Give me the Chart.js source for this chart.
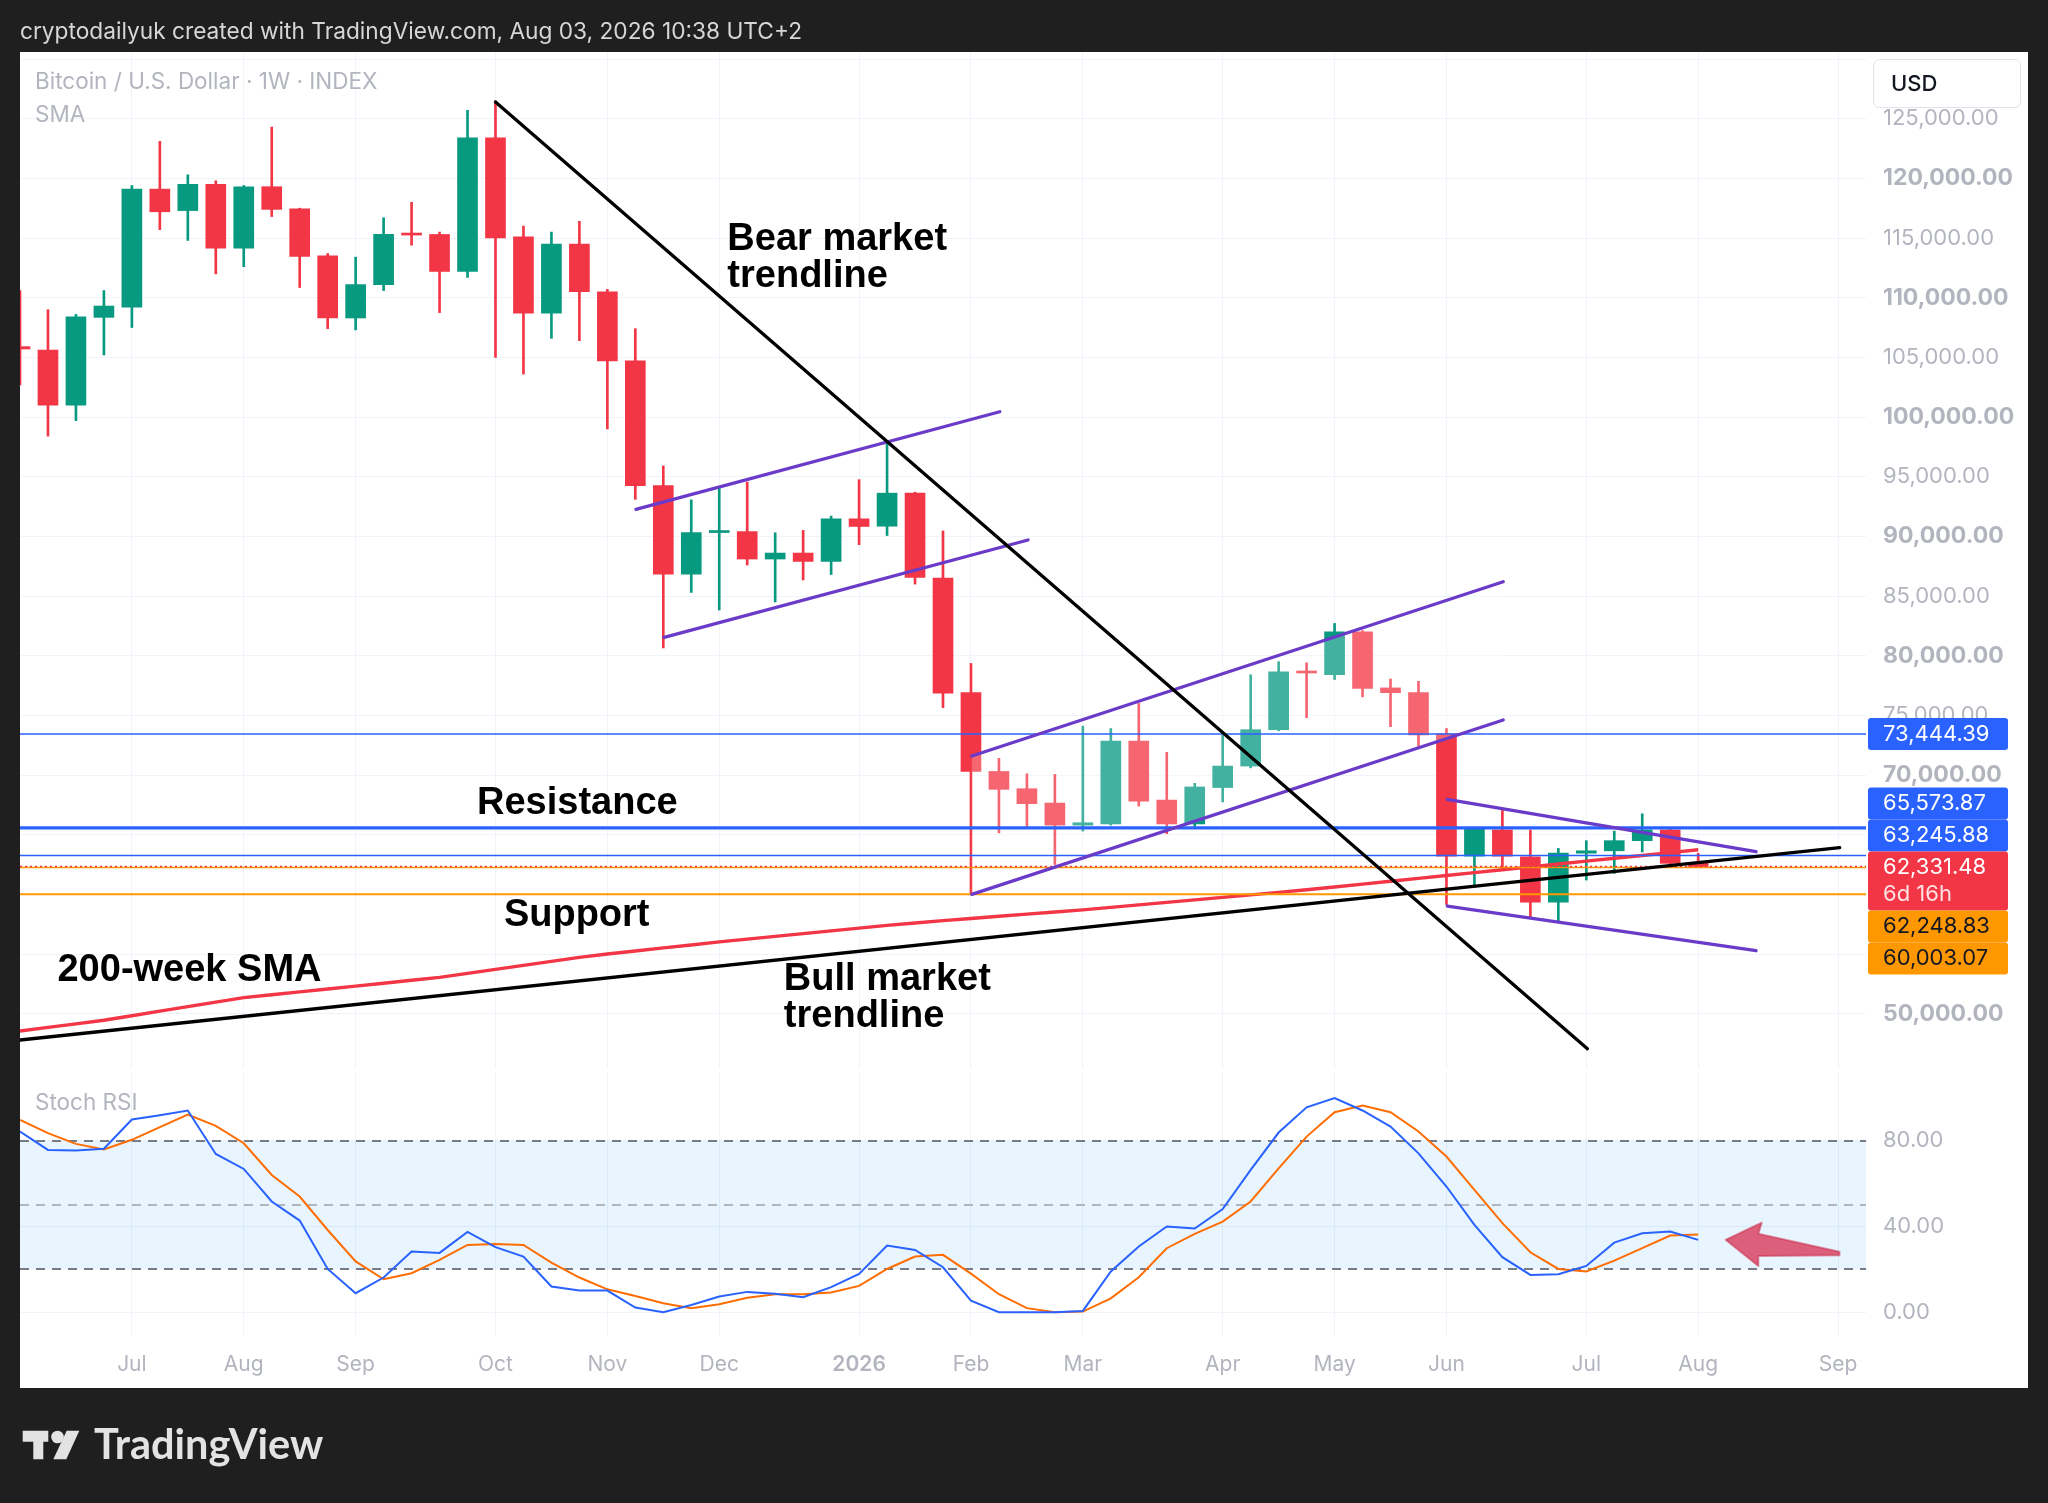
<!DOCTYPE html>
<html>
<head>
<meta charset="utf-8">
<title>Bitcoin / U.S. Dollar 1W</title>
<script src="https://cdn.jsdelivr.net/npm/chart.js@4.4.1/dist/chart.umd.min.js"></script>
<style>
  html, body { margin: 0; padding: 0; }
  body { width: 2048px; height: 1503px; background: #1f1f1f; position: relative; overflow: hidden; }
  #panel { position: absolute; left: 20px; top: 52px; width: 2008px; height: 1336px; background: #fff; }
  #chart { display: block; }
  #overlay { position: absolute; left: 0; top: 0; pointer-events: none; }
</style>
</head>
<body>
<div id="panel"><canvas id="chart" width="2008" height="1336"></canvas></div>
<svg id="overlay" width="2048" height="1503" xmlns="http://www.w3.org/2000/svg">
  <text x="20" y="39" font-family="Inter" font-size="22.7" fill="#d6d6d6">cryptodailyuk created with TradingView.com, Aug 03, 2026 10:38 UTC+2</text>
  <text x="35" y="89" font-family="Inter" font-size="22.5" fill="#b2b5be">Bitcoin / U.S. Dollar · 1W · INDEX</text>
  <text x="35" y="121.5" font-family="Inter" font-size="22.5" fill="#b2b5be">SMA</text>
  <text x="35" y="1110" font-family="Inter" font-size="22.5" fill="#b2b5be">Stoch RSI</text>
  <rect x="1873.5" y="59.5" width="147" height="48" rx="6" fill="#fff" stroke="#e0e3eb"/>
  <text x="1891" y="90.5" font-family="Inter" font-size="22" font-weight="500" fill="#131722">USD</text>
  <polygon points="22.7,1430.7 48.3,1430.7 48.3,1441.7 43.3,1441.7 43.3,1459.3 33.3,1459.3 33.3,1441.7 22.7,1441.7" fill="#e3e3e3"/>
  <circle cx="57.5" cy="1437" r="6.3" fill="#e3e3e3"/>
  <polygon points="66.7,1430.7 79.3,1430.7 66.3,1459.3 53.3,1459.3" fill="#e3e3e3"/>
  <text x="94" y="1459" font-family="Lato" font-weight="700" font-size="41.5" fill="#e3e3e3">TradingView</text>
</svg>
<script>
// weekly bars (Monday of each week), the last six are empty space on the right
const weeks = [
  '2025-06-09','2025-06-16','2025-06-23','2025-06-30','2025-07-07','2025-07-14','2025-07-21','2025-07-28',
  '2025-08-04','2025-08-11','2025-08-18','2025-08-25','2025-09-01','2025-09-08','2025-09-15','2025-09-22',
  '2025-09-29','2025-10-06','2025-10-13','2025-10-20','2025-10-27','2025-11-03','2025-11-10','2025-11-17',
  '2025-11-24','2025-12-01','2025-12-08','2025-12-15','2025-12-22','2025-12-29','2026-01-05','2026-01-12',
  '2026-01-19','2026-01-26','2026-02-02','2026-02-09','2026-02-16','2026-02-23','2026-03-02','2026-03-09',
  '2026-03-16','2026-03-23','2026-03-30','2026-04-06','2026-04-13','2026-04-20','2026-04-27','2026-05-04',
  '2026-05-11','2026-05-18','2026-05-25','2026-06-01','2026-06-08','2026-06-15','2026-06-22','2026-06-29',
  '2026-07-06','2026-07-13','2026-07-20','2026-07-27','2026-08-03','2026-08-10','2026-08-17','2026-08-24',
  '2026-08-31','2026-09-07','2026-09-14'
];
const monthNames = ['Jan','Feb','Mar','Apr','May','Jun','Jul','Aug','Sep','Oct','Nov','Dec'];

const openP = [
  105900, 105600, 101000, 108350, 109200, 119100, 117300, 119500, 114150, 119300,
  117450, 113500, 108300, 111100, 115350, 115300, 112200, 123400, 115100, 108700,
  114500, 110500, 104700, 94250, 86830, 90320, 90400, 88100, 88600, 87900,
  91470, 90850, 93620, 86500, 76900, 70300, 68850, 67650, 65800, 65900,
  72850, 67900, 65900, 68950, 70750, 73800, 78700, 78400, 82000, 77300,
  76900, 73450, 63200, 65400, 63150, 59350, 63450, 63650, 64500, 65400,
  62600
];
const highP = [
  110600, 109000, 108600, 110600, 119400, 123100, 120300, 119800, 119400, 124300,
  117500, 113700, 113400, 116700, 118000, 115500, 125700, 126500, 116000, 115500,
  116400, 110700, 107400, 95900, 93060, 94180, 94550, 90300, 90500, 91700,
  94750, 97950, 93700, 90450, 79350, 71400, 70100, 70050, 74100, 73900,
  76000, 71900, 69300, 73350, 78400, 79500, 79400, 82700, 82100, 78050,
  77850, 73900, 65500, 67050, 65400, 63850, 64500, 65300, 66750, 65500,
  63450
];
const lowP = [
  102700, 98400, 99700, 105200, 107500, 115700, 114800, 112000, 112600, 116800,
  110850, 107400, 107300, 110600, 114400, 108750, 111700, 105000, 103600, 106600,
  106400, 99000, 93100, 80650, 85300, 83830, 87600, 84500, 86350, 86800,
  89300, 90070, 86000, 75650, 60050, 65150, 65600, 62500, 65300, 65800,
  67400, 65100, 65700, 67750, 70600, 73700, 74800, 78000, 76550, 74050,
  72400, 59150, 60750, 62300, 58100, 57750, 61200, 61750, 63550, 62300,
  62250
];
const closeP = [
  105700, 101000, 108400, 109300, 119100, 117200, 119500, 114150, 119300, 117400,
  113450, 108300, 111100, 115300, 115250, 112200, 123400, 115000, 108700, 114500,
  110500, 104700, 94250, 86830, 90320, 90460, 88100, 88600, 87900, 91470,
  90830, 93620, 86550, 76850, 70300, 68800, 67600, 65800, 66000, 72850,
  67800, 65900, 69000, 70750, 73800, 78650, 78550, 82000, 77250, 76900,
  73350, 63200, 65450, 63200, 59350, 63450, 63650, 64500, 65400, 62600,
  62331.48
];
const sma200 = [
  48550, 48850, 49150, 49450, 49830, 50210, 50590, 50970, 51350, 51590,
  51830, 52070, 52310, 52550, 52800, 53040, 53380, 53710, 54050, 54380,
  54720, 55000, 55250, 55510, 55760, 56020, 56250, 56480, 56710, 56940,
  57170, 57400, 57600, 57800, 57980, 58160, 58340, 58520, 58700, 58910,
  59120, 59330, 59540, 59750, 59960, 60170, 60380, 60620, 60860, 61100,
  61340, 61580, 61820, 62060, 62300, 62540, 62780, 63020, 63260, 63500,
  63740
];
const stochK = [
  84.4, 75.8, 75.5, 76.3, 90.0, 92.0, 94.2, 73.9, 66.9, 51.7,
  42.8, 20.2, 8.9, 16.2, 28.3, 27.7, 37.5, 30.4, 26.0, 12.0,
  10.1, 10.1, 2.2, 0, 3.4, 7.3, 9.5, 8.6, 7.0, 11.7,
  17.9, 31.1, 29.1, 21.0, 5.4, 0, 0, 0, 0.6, 19.0,
  30.7, 40.0, 39.1, 48.2, 66.5, 83.9, 95.7, 100, 94.2, 86.7,
  74.2, 58.7, 40.8, 25.7, 17.4, 17.7, 21.6, 32.5, 36.9, 37.7,
  33.8
];
const stochD = [
  89.8, 83.6, 78.6, 76.0, 80.5, 86.4, 92.3, 87.0, 78.9, 64.1,
  54.0, 38.4, 23.7, 15.4, 18.2, 24.4, 31.4, 31.9, 31.4, 23.2,
  16.2, 10.7, 7.6, 4.2, 1.9, 3.7, 6.8, 8.4, 8.4, 9.2,
  12.3, 20.2, 26.0, 26.8, 18.0, 8.4, 1.9, 0, 0.3, 6.5,
  16.3, 29.9, 36.6, 42.3, 51.7, 67.2, 82.0, 93.4, 96.5, 93.4,
  84.4, 72.7, 57.1, 41.6, 28.0, 20.2, 19.0, 24.1, 29.9, 35.8,
  36.3
];

const levelValues = [73444.39, 65573.87, 63245.88, 62248.83, 60003.07];
const currentPrice = closeP[closeP.length - 1];
const tagValues = [73444.39, 65573.87, 63245.88, currentPrice, 62248.83, 60003.07];
const priceTicks = [50000, 55000, 60000, 65000, 70000, 75000, 80000, 85000, 90000, 95000,
  100000, 105000, 110000, 115000, 120000, 125000, 130000];
const rsiTicks = [0, 40, 80];
const rsiBand = [20, 80];
const rsiDashed = [80, 50, 20];

// drawn lines, as [week index, price]
const bearLine = [[17, 126400], [56.04, 47064]];
const bullLine = [[0, 47793], [65.06, 63908]];
const chan1Upper = [[22.02, 92266], [35.03, 100445]];
const chan1Lower = [[23.03, 81540], [36.04, 89693]];
const chan2Upper = [[34.03, 71592], [53.03, 86199]];
const chan2Lower = [[34.03, 60002], [53.03, 74609]];
const triUpper = [[51.03, 67964], [62.07, 63573]];
const triLower = [[51.03, 59022], [62.07, 55276]];
// arrow in the Stoch RSI pane, as [week index, value]
const arrowPts = [[60.98, 33.8], [62.27, 41.8], [62.15, 36.6], [65.05, 28.2], [65.05, 26.6], [62.15, 26.3], [62.15, 21.6]];

const notes = [
  { lines: ['Bear market', 'trendline'], at: [25.29, 114900] },
  { lines: ['Resistance'], at: [16.34, 67600] },
  { lines: ['Support'], at: [17.30, 58200] },
  { lines: ['200-week SMA'], at: [1.34, 53650] },
  { lines: ['Bull market', 'trendline'], at: [27.31, 52900] }
];

const UP = '#089981', DOWN = '#f23645', PURPLE = '#6a3bc9';
const Y_MIN = 45280, Y_MAX = 130590;
const candleColor = closeP.map((c, i) => c >= openP[i] ? UP : DOWN);
const monthLabel = weeks.map((w, i) => {
  if (i === 0 || w.slice(5, 7) === weeks[i - 1].slice(5, 7)) return '';
  return w.slice(5, 7) === '01' ? w.slice(0, 4) : monthNames[+w.slice(5, 7) - 1];
});
const priceLabel = v => v.toLocaleString('en-US', { minimumFractionDigits: 2, maximumFractionDigits: 2 });

const levelStyle = [
  { color: '#2962ff', width: 1.5 },
  { color: '#2962ff', width: 3.2 },
  { color: '#2962ff', width: 1.5 },
  { color: '#ff9800', width: 1.5 },
  { color: '#ff9800', width: 2 }
];
const tagStyle = [
  { bg: '#2962ff', fg: '#ffffff' },
  { bg: '#2962ff', fg: '#ffffff' },
  { bg: '#2962ff', fg: '#ffffff' },
  { bg: '#f23645', fg: '#ffffff', sub: '6d 16h' },
  { bg: '#ff9800', fg: '#131722' },
  { bg: '#ff9800', fg: '#131722' }
];

const drawings = {
  id: 'drawings',
  beforeDatasetsDraw(chart) {
    const { ctx, chartArea: a, scales: { y, y2 } } = chart;
    ctx.save();
    // gap between the two panes
    ctx.fillStyle = '#ffffff';
    ctx.fillRect(a.left, y.bottom - 1, a.right - a.left, 3);
    const t = y2.getPixelForValue(rsiBand[1]), b = y2.getPixelForValue(rsiBand[0]);
    ctx.fillStyle = 'rgba(33,150,243,0.1)';
    ctx.fillRect(a.left, t, a.right - a.left, b - t);
    ctx.lineWidth = 2;
    ctx.setLineDash([9, 7]);
    rsiDashed.forEach((v, k) => {
      ctx.strokeStyle = k === 1 ? '#b2b5be' : '#787b86';
      const py = Math.round(y2.getPixelForValue(v));
      ctx.beginPath(); ctx.moveTo(a.left, py); ctx.lineTo(a.right, py); ctx.stroke();
    });
    ctx.restore();
  },
  afterDatasetsDraw(chart) {
    const { ctx, scales: { x, y, y2 } } = chart;
    const P = p => [x.getPixelForValue(p[0]), y.getPixelForValue(p[1])];
    const seg = (line, color, w) => {
      const p0 = P(line[0]), p1 = P(line[1]);
      ctx.strokeStyle = color; ctx.lineWidth = w; ctx.lineCap = 'round';
      ctx.beginPath(); ctx.moveTo(p0[0], p0[1]); ctx.lineTo(p1[0], p1[1]); ctx.stroke();
    };
    ctx.save();
    ctx.beginPath(); ctx.rect(x.left, y.top, x.right - x.left, y.bottom - y.top); ctx.clip();

    // light veil inside the second channel
    const c = [P(chan2Upper[0]), P(chan2Upper[1]), P(chan2Lower[1]), P(chan2Lower[0])];
    ctx.fillStyle = 'rgba(255,255,255,0.24)';
    ctx.beginPath(); c.forEach((p, j) => j ? ctx.lineTo(p[0], p[1]) : ctx.moveTo(p[0], p[1])); ctx.closePath(); ctx.fill();

    levelValues.forEach((v, k) => {
      const py = y.getPixelForValue(v);
      ctx.strokeStyle = levelStyle[k].color; ctx.lineWidth = levelStyle[k].width;
      ctx.beginPath(); ctx.moveTo(x.left, py); ctx.lineTo(x.right, py); ctx.stroke();
    });
    // current price line
    ctx.setLineDash([2, 3]);
    ctx.strokeStyle = DOWN; ctx.lineWidth = 1.5;
    const cp = y.getPixelForValue(currentPrice);
    ctx.beginPath(); ctx.moveTo(x.left, cp); ctx.lineTo(x.right, cp); ctx.stroke();
    ctx.setLineDash([]);

    [chan1Upper, chan1Lower, chan2Upper, chan2Lower, triUpper, triLower].forEach(l => seg(l, PURPLE, 3.3));
    seg(bearLine, '#000000', 3.3);
    seg(bullLine, '#000000', 3.3);

    ctx.fillStyle = '#000000';
    ctx.font = 'bold 38px "Liberation Sans", Arial, sans-serif';
    ctx.textBaseline = 'middle';
    notes.forEach(n => {
      const p = P(n.at);
      n.lines.forEach((s, j) => ctx.fillText(s, p[0], p[1] + j * 37));
    });
    ctx.restore();

    // arrow in the oscillator pane
    ctx.save();
    ctx.beginPath();
    arrowPts.forEach((p, j) => {
      const px = x.getPixelForValue(p[0]), py = y2.getPixelForValue(p[1]);
      j ? ctx.lineTo(px, py) : ctx.moveTo(px, py);
    });
    ctx.closePath();
    ctx.fillStyle = 'rgba(217,54,86,0.78)';
    ctx.fill();
    ctx.strokeStyle = 'rgba(200,40,70,0.5)'; ctx.lineWidth = 2; ctx.lineJoin = 'round';
    ctx.stroke();
    ctx.restore();
  },
  afterDraw(chart) {
    const { ctx, chartArea: a, scales: { y } } = chart;
    const left = a.right + 2, w = 140;
    // tags keep price order; overlapping ones are stacked, nudged a bit below their mean position
    let boxes = tagValues.map((v, k) => {
      const h = tagStyle[k].sub ? 59 : 32;
      const anchor = y.getPixelForValue(v);
      return { k, h, anchor, ideal: anchor + (tagStyle[k].sub ? 13.5 : 0) };
    }).sort((p, q) => p.anchor - q.anchor);
    let groups = boxes.map(b => ({ items: [b] }));
    const place = g => {
      g.h = g.items.reduce((s, b) => s + b.h, 0);
      const mean = g.items.reduce((s, b) => s + b.ideal, 0) / g.items.length;
      g.top = mean - g.h / 2 + (g.items.length > 1 ? 16 : 0);
    };
    groups.forEach(place);
    let merged = true;
    while (merged) {
      merged = false;
      for (let i = 0; i < groups.length - 1; i++) {
        if (groups[i].top + groups[i].h > groups[i + 1].top) {
          groups[i].items = groups[i].items.concat(groups[i + 1].items);
          groups.splice(i + 1, 1);
          place(groups[i]);
          merged = true;
          break;
        }
      }
    }
    ctx.save();
    ctx.textBaseline = 'middle';
    groups.forEach(g => {
      let top = g.top;
      g.items.forEach(b => {
        const st = tagStyle[b.k];
        ctx.fillStyle = st.bg;
        ctx.beginPath(); ctx.roundRect(left, top, w, b.h, 3); ctx.fill();
        ctx.fillStyle = st.fg;
        ctx.font = '22px Inter, sans-serif';
        ctx.fillText(priceLabel(tagValues[b.k]), left + 15, top + 16);
        if (st.sub) {
          ctx.fillStyle = 'rgba(255,255,255,0.85)';
          ctx.fillText(st.sub, left + 15, top + 43);
        }
        top += b.h;
      });
    });
    ctx.restore();
  }
};

new Chart(document.getElementById('chart'), {
  type: 'bar',
  data: {
    labels: weeks,
    datasets: [
      { label: 'wick', data: lowP.map((l, i) => [l, highP[i]]), backgroundColor: candleColor,
        barThickness: 2, grouped: false, yAxisID: 'y', order: 4 },
      { label: 'body', data: openP.map((o, i) => [o, closeP[i]]), backgroundColor: candleColor,
        barThickness: 20, minBarLength: 2, grouped: false, yAxisID: 'y', order: 3 },
      { type: 'line', label: 'SMA 200', data: sma200, borderColor: '#f23645', borderWidth: 3.4,
        pointRadius: 0, yAxisID: 'y', order: 2 },
      { type: 'line', label: '%D', data: stochD, borderColor: '#ff6d00', borderWidth: 2,
        pointRadius: 0, yAxisID: 'y2', order: 1 },
      { type: 'line', label: '%K', data: stochK, borderColor: '#2962ff', borderWidth: 2,
        pointRadius: 0, yAxisID: 'y2', order: 0 }
    ]
  },
  options: {
    responsive: false,
    animation: false,
    layout: { padding: 0 },
    plugins: { legend: { display: false }, tooltip: { enabled: false } },
    scales: {
      x: {
        offset: false,
        grid: { offset: false, drawTicks: false, color: ctx => monthLabel[ctx.index] ? '#f0f3fa' : 'rgba(0,0,0,0)' },
        border: { display: false },
        ticks: {
          autoSkip: false, maxRotation: 0, padding: 16, color: '#b2b5be',
          font: ctx => ({ family: 'Inter', size: 21, weight: monthLabel[ctx.index] === '2026' ? '600' : '400' }),
          callback: (v, i) => monthLabel[i]
        },
        afterFit: s => { s.height = 52; s.paddingLeft = 0; s.paddingRight = 0; }
      },
      y: {
        position: 'right', stack: 'panes', stackWeight: 1018,
        min: Y_MIN, max: Y_MAX,
        grid: { color: '#f0f3fa', drawTicks: false },
        border: { display: false },
        afterBuildTicks: s => { s.ticks = priceTicks.map(v => ({ value: v })); },
        ticks: {
          autoSkip: false, padding: 17, color: '#b2b5be',
          font: ctx => (ctx.tick && ctx.tick.value % 10000 === 0
            ? { family: 'Inter', size: 23, weight: '700' }
            : { family: 'Inter', size: 22, weight: '400' }),
          callback: v => v > Y_MAX - 2500 ? '' : priceLabel(v)
        },
        afterFit: s => { s.width = 162; s.paddingTop = 0; s.paddingBottom = 0; }
      },
      y2: {
        position: 'right', stack: 'panes', stackWeight: 266,
        min: -11.1, max: 113.1,
        grid: { color: '#f0f3fa', drawTicks: false },
        border: { display: false },
        afterBuildTicks: s => { s.ticks = rsiTicks.map(v => ({ value: v })); },
        ticks: {
          padding: 17, color: '#b2b5be', font: { family: 'Inter', size: 22 },
          callback: v => v.toFixed(2)
        },
        afterFit: s => { s.width = 162; s.paddingTop = 0; s.paddingBottom = 0; }
      }
    }
  },
  plugins: [drawings]
});
</script>
</body>
</html>
